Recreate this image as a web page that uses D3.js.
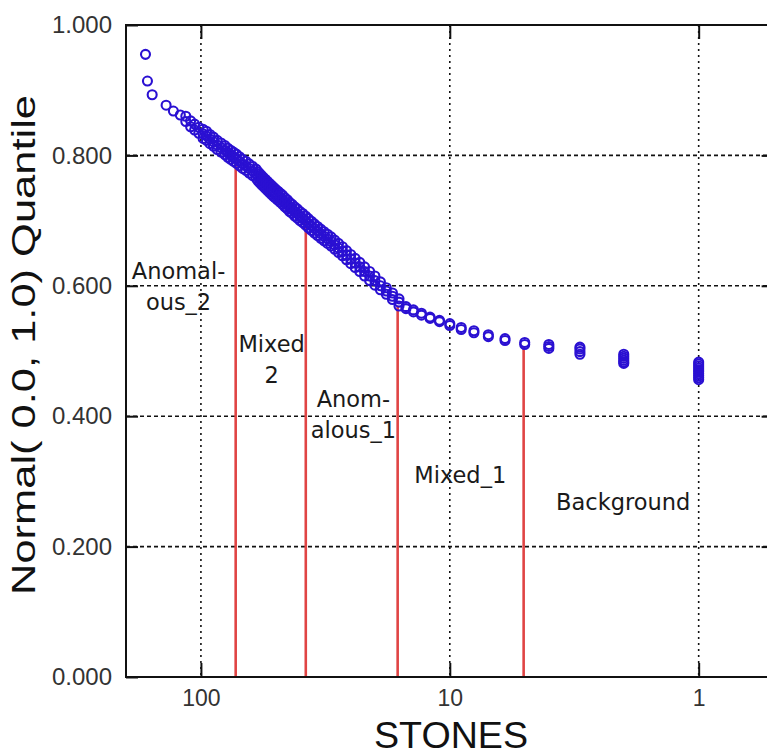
<!DOCTYPE html>
<html>
<head>
<meta charset="utf-8">
<script src="https://cdn.jsdelivr.net/npm/d3@7.9.0/dist/d3.min.js"></script>
<style>
  html, body { margin: 0; padding: 0; background: #fff; overflow: hidden; }
  svg { display: block; }
</style>
</head>
<body>
<div id="chart"></div>
<script>
// stone counts (x) and the normal quantiles plotted for each count (y)
const stoneValues = [167, 164, 157, 138, 129, 121, 115, 110, 106, 102, 98, 95, 92, 89, 86, 83, 80, 78, 76, 74,
  72, 70, 68, 66, 64, 62, 60, 59, 58, 57, 56, 55, 54, 53, 52, 51, 50, 49, 48, 47, 46, 45, 44, 43, 42, 41, 40,
  39, 38, 37, 36, 35, 34, 33, 32, 31, 30, 29, 28, 27, 26, 25, 24, 23, 22, 21, 20, 19, 18, 17, 16, 15, 14, 13,
  12, 11, 10, 9, 8, 7, 6, 5, 4, 3, 2, 1];

const quantiles = [
  [0.955], [0.914], [0.893], [0.877], [0.868], [0.862], [0.860, 0.852], [0.853, 0.844], [0.848, 0.839],
  [0.843, 0.834],
  [0.840, 0.833, 0.826], [0.837, 0.830, 0.823], [0.832, 0.825, 0.818], [0.828, 0.821, 0.814],
  [0.823, 0.816, 0.809], [0.819, 0.812, 0.805], [0.815, 0.808, 0.801], [0.811, 0.804, 0.797],
  [0.808, 0.801, 0.794], [0.805, 0.798, 0.791],
  [0.802, 0.795, 0.788], [0.798, 0.791, 0.784], [0.794, 0.787, 0.780], [0.791, 0.784, 0.777],
  [0.787, 0.780, 0.773], [0.783, 0.776, 0.769], [0.779, 0.772, 0.765], [0.775, 0.768, 0.761],
  [0.772, 0.765, 0.758], [0.769, 0.762, 0.755], [0.766, 0.759, 0.752], [0.763, 0.756, 0.749],
  [0.760, 0.753, 0.746], [0.757, 0.750, 0.743], [0.754, 0.747, 0.740], [0.751, 0.744, 0.737],
  [0.748, 0.741, 0.734], [0.745, 0.738, 0.731], [0.742, 0.735, 0.728], [0.739, 0.732, 0.725],
  [0.735, 0.728, 0.721], [0.732, 0.725, 0.718], [0.728, 0.721, 0.714], [0.725, 0.718, 0.711],
  [0.721, 0.714, 0.707], [0.718, 0.711, 0.704], [0.714, 0.707, 0.700],
  [0.711, 0.704, 0.697], [0.707, 0.700, 0.693], [0.703, 0.696, 0.689], [0.699, 0.692, 0.685],
  [0.695, 0.688, 0.681], [0.691, 0.684, 0.677], [0.687, 0.680, 0.673], [0.683, 0.676, 0.669],
  [0.679, 0.672, 0.665], [0.675, 0.668, 0.661], [0.670, 0.663, 0.656], [0.665, 0.658, 0.651],
  [0.660, 0.653, 0.646], [0.654, 0.647, 0.640], [0.648, 0.641, 0.634], [0.642, 0.635, 0.628],
  [0.636, 0.629, 0.622], [0.629, 0.622, 0.615], [0.622, 0.615, 0.608], [0.615, 0.608, 0.601],
  [0.606, 0.600, 0.594], [0.597, 0.592, 0.587], [0.589, 0.584, 0.579], [0.580, 0.575, 0.569],
  [0.568, 0.565], [0.563, 0.560], [0.558, 0.555],
  [0.552, 0.550], [0.547, 0.545], [0.542, 0.539], [0.536, 0.533], [0.531, 0.528], [0.525, 0.522],
  [0.519, 0.516], [0.513, 0.510], [0.510, 0.507, 0.504], [0.506, 0.503, 0.499, 0.495],
  [0.495, 0.492, 0.489, 0.486, 0.483, 0.481],
  [0.483, 0.480, 0.477, 0.474, 0.471, 0.468, 0.465, 0.462, 0.459, 0.456]
];

// population cut-offs (red lines): stone count and quantile where they meet the curve
const cutoffStones = [72.5, 37.9, 16.2, 5.05];
const cutoffTops = [0.793, 0.697, 0.568, 0.507];

// population labels, anchored in data units (stones, quantile of first line)
const groupLabels = [
  { lines: ['Anomal-', 'ous_2'], stones: 123, q: 0.610 },
  { lines: ['Mixed', '2'], stones: 52, q: 0.498 },
  { lines: ['Anom-', 'alous_1'], stones: 24.4, q: 0.414 },
  { lines: ['Mixed_1'], stones: 9.08, q: 0.2975 },
  { lines: ['Background'], stones: 2.01, q: 0.256 }
];

const xTicks = [100, 10, 1];
const yTicks = [0, 0.2, 0.4, 0.6, 0.8, 1.0];
const gridY = [0.2, 0.4, 0.6, 0.8];

const width = 767;
const height = 755;
const plot = { left: 126, top: 25, bottom: 677, right: 773.6 };

const svg = d3.select('#chart')
  .append('svg')
  .attr('width', width)
  .attr('height', height);

const xScale = d3.scaleLog().domain([200, 0.5]).range([plot.left, plot.right]);
const yScale = d3.scaleLinear().domain([0, 1]).range([plot.bottom, plot.top]);

// gridlines
svg.append('g')
  .selectAll('line')
  .data(xTicks)
  .join('line')
  .attr('x1', d => xScale(d)).attr('x2', d => xScale(d))
  .attr('y1', plot.top).attr('y2', plot.bottom)
  .attr('stroke', '#111')
  .attr('stroke-width', 1.6)
  .attr('stroke-dasharray', '2,4');

svg.append('g')
  .selectAll('line')
  .data(gridY)
  .join('line')
  .attr('x1', plot.left).attr('x2', plot.right)
  .attr('y1', d => yScale(d)).attr('y2', d => yScale(d))
  .attr('stroke', '#111')
  .attr('stroke-width', 1.6)
  .attr('stroke-dasharray', '4,3');

// red cut-off lines
svg.append('g')
  .selectAll('line')
  .data(cutoffStones)
  .join('line')
  .attr('x1', d => xScale(d)).attr('x2', d => xScale(d))
  .attr('y1', plot.bottom)
  .attr('y2', (d, i) => yScale(cutoffTops[i]))
  .attr('stroke', '#e04444')
  .attr('stroke-width', 2.6);

// points
const points = stoneValues.flatMap((s, i) => quantiles[i].map(q => ({ stones: s, q })));

svg.append('g')
  .selectAll('circle')
  .data(points)
  .join('circle')
  .attr('cx', d => xScale(d.stones))
  .attr('cy', d => yScale(d.q))
  .attr('r', 4.5)
  .attr('fill', 'none')
  .attr('stroke', '#2a10d2')
  .attr('stroke-width', 2.1);

// axes (ticks point inward)
const axisFont = '"Liberation Sans", Arial, sans-serif';

const xAxis = svg.append('g')
  .attr('transform', `translate(0, ${plot.bottom})`)
  .call(d3.axisBottom(xScale).tickValues(xTicks).tickFormat(d3.format('d'))
    .tickSizeInner(-14).tickSizeOuter(0).tickPadding(13));
xAxis.select('.domain').remove();
xAxis.selectAll('line').attr('stroke', '#111').attr('stroke-width', 2);
xAxis.selectAll('text').style('font-family', axisFont).style('font-size', '23px').attr('fill', '#333');

const xAxisTop = svg.append('g')
  .attr('transform', `translate(0, ${plot.top})`)
  .call(d3.axisTop(xScale).tickValues(xTicks).tickFormat('').tickSizeInner(-14).tickSizeOuter(0));
xAxisTop.select('.domain').remove();
xAxisTop.selectAll('line').attr('stroke', '#111').attr('stroke-width', 2);

const yAxis = svg.append('g')
  .attr('transform', `translate(${plot.left}, 0)`)
  .call(d3.axisLeft(yScale).tickValues(yTicks).tickFormat(d3.format('.3f'))
    .tickSizeInner(-12).tickSizeOuter(0).tickPadding(14));
yAxis.select('.domain').remove();
yAxis.selectAll('line').attr('stroke', '#111').attr('stroke-width', 2);
yAxis.selectAll('text').style('font-family', axisFont).style('font-size', '24px').attr('fill', '#333');

const yAxisRight = svg.append('g')
  .attr('transform', `translate(${plot.right}, 0)`)
  .call(d3.axisRight(yScale).tickValues(gridY).tickFormat('').tickSizeInner(-12).tickSizeOuter(0));
yAxisRight.select('.domain').remove();
yAxisRight.selectAll('line').attr('stroke', '#111').attr('stroke-width', 2);

// frame
svg.append('path')
  .attr('d', `M${plot.right},${plot.top}H${plot.left}V${plot.bottom}H${plot.right}`)
  .attr('fill', 'none')
  .attr('stroke', '#111')
  .attr('stroke-width', 2);

// group labels
const labelG = svg.append('g')
  .style('font-family', '"DejaVu Sans", Verdana, sans-serif')
  .style('font-size', '22.5px')
  .attr('fill', '#1a1a1a')
  .attr('text-anchor', 'middle');

groupLabels.forEach(l => {
  const t = labelG.append('text')
    .attr('x', xScale(l.stones))
    .attr('y', yScale(l.q));
  l.lines.forEach((line, i) => {
    t.append('tspan')
      .attr('x', xScale(l.stones))
      .attr('dy', i === 0 ? 0 : 30.5)
      .text(line);
  });
});

// axis titles
svg.append('text')
  .attr('x', 451)
  .attr('y', 748)
  .attr('text-anchor', 'middle')
  .attr('textLength', 154)
  .attr('lengthAdjust', 'spacingAndGlyphs')
  .style('font-family', axisFont)
  .style('font-size', '36px')
  .attr('fill', '#111')
  .text('STONES');

svg.append('text')
  .attr('transform', 'translate(35, 345) rotate(-90)')
  .attr('text-anchor', 'middle')
  .attr('textLength', 500)
  .attr('lengthAdjust', 'spacingAndGlyphs')
  .style('font-family', axisFont)
  .style('font-size', '34px')
  .attr('fill', '#111')
  .text('Normal( 0.0, 1.0) Quantile');
</script>
</body>
</html>
